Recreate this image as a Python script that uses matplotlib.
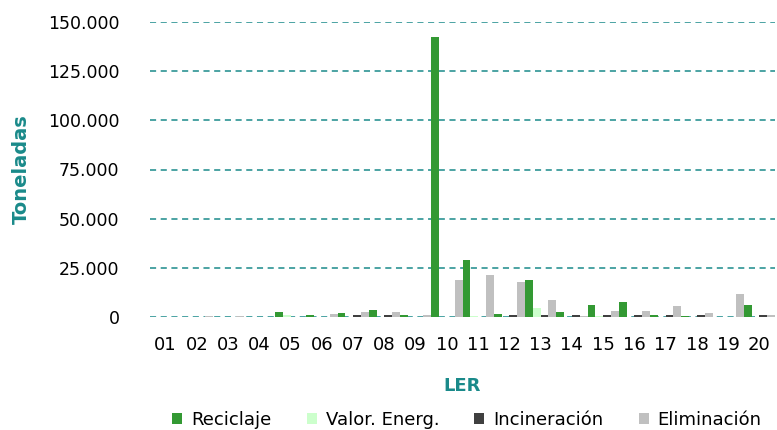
import matplotlib
matplotlib.use("Agg")
import matplotlib.pyplot as plt
import numpy as np
from matplotlib.ticker import FuncFormatter

categories = ["01","02","03","04","05","06","07","08","09","10",
              "11","12","13","14","15","16","17","18","19","20"]
reciclaje    = [0, 0, 0, 0, 2400, 1000, 1800, 3400, 800, 142500, 29000, 1700, 19000, 2300, 6300, 7700, 800, 600, 0, 6300]
valor_energ  = [0, 0, 0, 0, 800, 0, 0, 0, 0, 0, 300, 0, 4700, 0, 300, 0, 0, 0, 0, 0]
incineracion = [0, 0, 0, 0, 0, 0, 1000, 1000, 0, 0, 0, 800, 800, 800, 800, 800, 800, 800, 0, 800]
eliminacion  = [0, 700, 700, 0, 0, 1700, 2300, 2500, 800, 19000, 21500, 17600, 8400, 500, 3200, 3200, 5400, 1800, 11500, 800]
series_names = ["Reciclaje", "Valor. Energ.", "Incineración", "Eliminación"]
colors = ["#339933", "#ccffcc", "#404040", "#c0c0c0"]
yticks = [0, 25000, 50000, 75000, 100000, 125000, 150000]

teal = "#1a8a8a"

fig = plt.figure(figsize=(7.77, 4.30), dpi=100)
ax = fig.add_axes([150/777, 1-317/430, 625/777, 295/430])

x = np.arange(len(categories))
w = 0.25
all_series = [reciclaje, valor_energ, incineracion, eliminacion]
for i, (vals, name, c) in enumerate(zip(all_series, series_names, colors)):
    ax.bar(x + (i - 1.5) * w, vals, width=w, color=c, label=name, zorder=3)

ax.set_xlim(-0.5, len(categories) - 0.5)
ax.set_ylim(0, 150000)
ax.set_yticks(yticks)
ax.yaxis.set_major_formatter(FuncFormatter(lambda v, p: f"{int(v):,}".replace(",", ".")))
ax.set_xticks(x)
ax.set_xticklabels(categories)
ax.tick_params(axis="y", length=0, pad=22, labelsize=12.5)
ax.tick_params(axis="x", length=0, pad=14, labelsize=13)
ax.grid(axis="y", color=teal, linestyle=(0, (4, 3)), linewidth=1.1, zorder=1)
ax.set_axisbelow(True)
for s in ax.spines.values():
    s.set_visible(False)

ax.set_ylabel("Toneladas", color=teal, fontweight="bold", fontsize=14, labelpad=12)
ax.set_xlabel("LER", color=teal, fontweight="bold", fontsize=13, labelpad=16)

leg = fig.legend(loc="center", bbox_to_anchor=(467/777, 1-420/430), ncol=4, frameon=False,
                 fontsize=13, handlelength=0.55, handleheight=0.55, handletextpad=0.5,
                 columnspacing=1.95, borderaxespad=0)

fig.savefig("out.png", dpi=100)
